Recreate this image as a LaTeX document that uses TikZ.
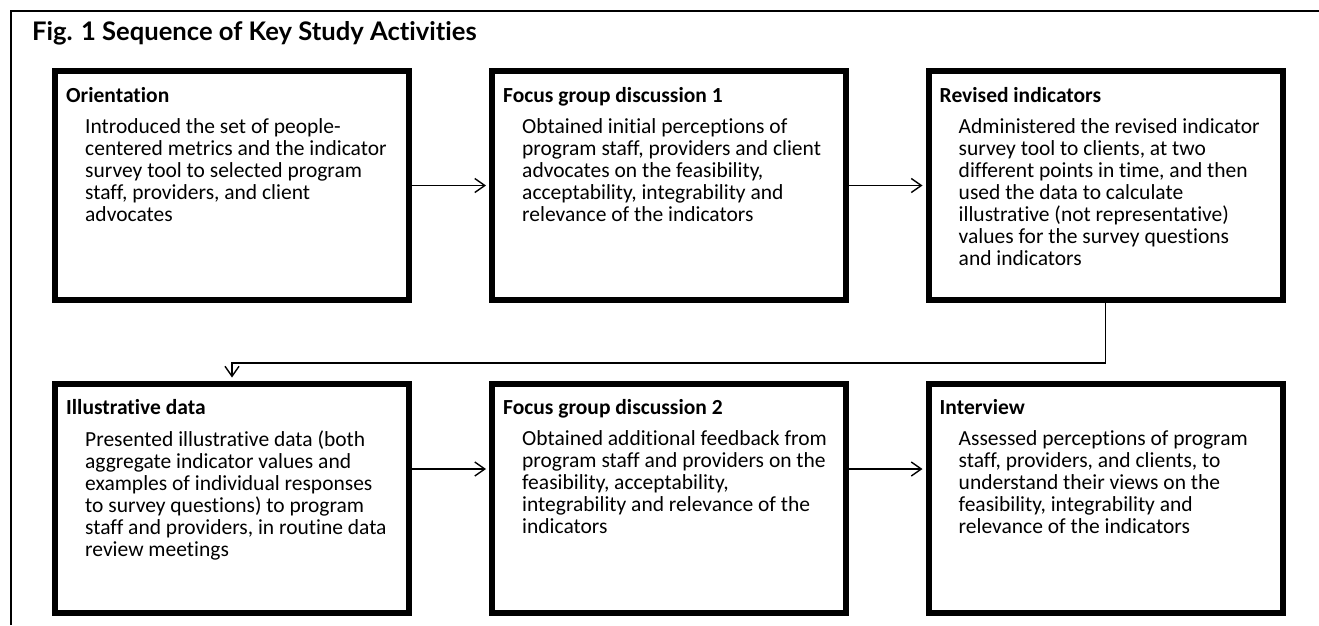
\documentclass[tikz,border=0pt]{standalone}
\usepackage{fontspec}
\setmainfont{Carlito}[Ligatures=NoCommon]
\newfontfamily\titlefont{Lato}[Ligatures=NoCommon]
\usetikzlibrary{arrows.meta,positioning}
\tikzset{
  stage/.style={draw, line width=6pt, minimum width=354pt, minimum height=229pt, inner sep=0pt},
  head/.style={anchor=base west, inner sep=0pt, font=\fontsize{21.5}{22}\selectfont\bfseries},
  body/.style={anchor=north west, inner sep=0pt, align=left, font=\fontsize{21.5}{22}\selectfont},
  flow/.style={-{Straight Barb[length=10pt,width=14pt]}, line width=1.4pt, shorten >=3pt},
}
\begin{document}
\begin{tikzpicture}[x=1pt, y=-1pt]
            \useasboundingbox (0,0) rectangle (1319,625);
            \draw[line width=2pt] (11,625) -- (11,11) -- (1319,11);
            \node[anchor=base west, inner sep=0pt, font=\titlefont\fontsize{25.6}{28}\selectfont\bfseries] (title) at (32,40) {Fig. 1 Sequence of Key Study Activities};

            \node[stage] (orient) at (232,185.5) {};
            \node[stage] (fgdA) at (669,185.5) {};
            \node[stage] (rev) at (1105.5,185.5) {};
            \node[stage] (illus) at (232,498) {};
            \node[stage] (fgdB) at (669,498) {};
            \node[stage] (intv) at (1105.5,498) {};

            \node[head] (orientH) at ([xshift=14pt,yshift=-34pt]orient.north west) {Orientation};
            \node[body] (orientT) at ([xshift=33pt,yshift=-50pt]orient.north west) {Introduced the set of people-\\centered metrics and the indicator\\survey tool to selected program\\staff, providers, and client\\advocates};

            \node[head] (fgdAH) at ([xshift=14pt,yshift=-34pt]fgdA.north west) {Focus group discussion 1};
            \node[body] (fgdAT) at ([xshift=33pt,yshift=-50pt]fgdA.north west) {Obtained initial perceptions of\\program staff, providers and client\\advocates on the feasibility,\\acceptability, integrability and\\relevance of the indicators};

            \node[head] (revH) at ([xshift=14pt,yshift=-34pt]rev.north west) {Revised indicators};
            \node[body] (revT) at ([xshift=33pt,yshift=-50pt]rev.north west) {Administered the revised indicator\\survey tool to clients, at two\\different points in time, and then\\used the data to calculate\\illustrative (not representative)\\values for the survey questions\\and indicators};

            \node[head] (illusH) at ([xshift=14pt,yshift=-34pt]illus.north west) {Illustrative data};
            \node[body] (illusT) at ([xshift=33pt,yshift=-50pt]illus.north west) {Presented illustrative data (both\\aggregate indicator values and\\examples of individual responses\\to survey questions) to program\\staff and providers, in routine data\\review meetings};

            \node[head] (fgdBH) at ([xshift=14pt,yshift=-34pt]fgdB.north west) {Focus group discussion 2};
            \node[body] (fgdBT) at ([xshift=33pt,yshift=-50pt]fgdB.north west) {Obtained additional feedback from\\program staff and providers on the\\feasibility, acceptability,\\integrability and relevance of the\\indicators};

            \node[head] (intvH) at ([xshift=14pt,yshift=-34pt]intv.north west) {Interview};
            \node[body] (intvT) at ([xshift=33pt,yshift=-50pt]intv.north west) {Assessed perceptions of program\\staff, providers, and clients, to\\understand their views on the\\feasibility, integrability and\\relevance of the indicators};

            \coordinate (turn) at (0,363);
            \coordinate (row2) at (0,469);
            \draw[flow] (orient) -- (fgdA);
            \draw[flow] (fgdA) -- (rev);
            \draw[flow] (rev.south) -- (rev.south |- turn) -| (illus.north);
            \draw[flow] (illus.east |- row2) -- (fgdB.west |- row2);
            \draw[flow] (fgdB.east |- row2) -- (intv.west |- row2);
\end{tikzpicture}
\end{document}
